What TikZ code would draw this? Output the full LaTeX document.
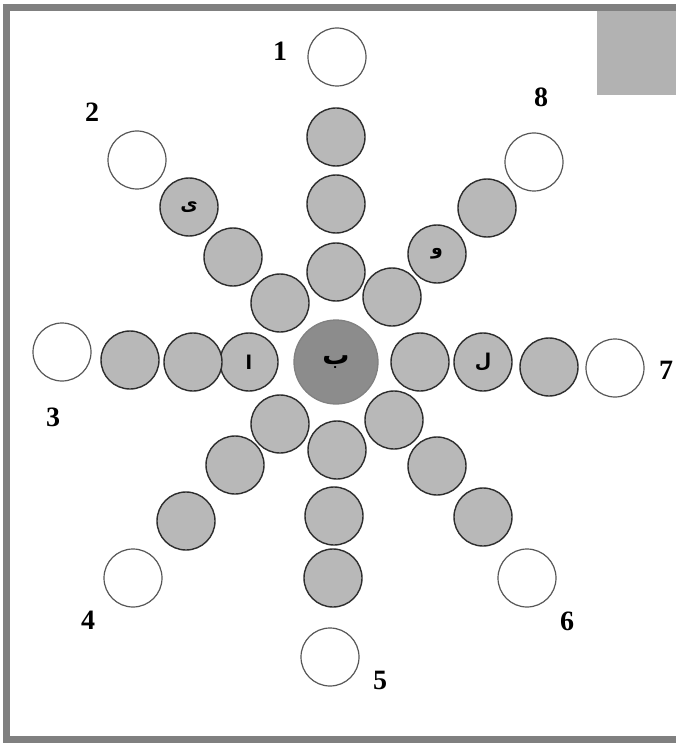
\documentclass[tikz,border=0pt]{standalone}
\usepackage{fontspec}
\setmainfont{Liberation Serif}
\newfontfamily\arabicfont[Script=Arabic]{DejaVu Sans}
\TeXXeTstate=1
\usetikzlibrary{positioning}
\definecolor{FrameGray}{RGB}{128,128,128}
\definecolor{BeadGray}{RGB}{184,184,184}
\definecolor{HubGray}{RGB}{140,140,140}
\definecolor{BeadLine}{RGB}{45,45,45}

\begin{document}
\begin{tikzpicture}[x=1pt,y=-1pt,
    bead/.style={circle, draw=BeadLine, fill=BeadGray, line width=1.4pt,
                 minimum size=58pt, inner sep=0pt,
                 font=\arabicfont\fontsize{19}{19}\selectfont\bfseries},
    tip/.style={circle, draw=BeadLine!80, fill=white, line width=1.2pt,
                minimum size=58pt, inner sep=0pt},
    hub/.style={circle, draw=BeadLine!60, fill=HubGray, line width=1.3pt,
                minimum size=84pt, inner sep=0pt,
                font=\arabicfont\fontsize{27}{27}\selectfont\bfseries},
    num/.style={font=\fontsize{28}{28}\selectfont\bfseries, inner sep=0pt}
  ]
    \useasboundingbox (0,0) rectangle (676,743);
    % frame and corner box
    \fill[BeadGray!97!black] (597,10) rectangle (676,95);
    \draw[FrameGray, line width=7pt] (676,7.5) -- (6.5,7.5) -- (6.5,739.5) -- (676,739.5);

    \node[hub] (hub) at (336,362) {\beginR ب\endR};

    % arm 1 (up)
    \node[bead] (u1) at (336,272) {};
    \node[bead] (u2) at (336,204) {};
    \node[bead] (u3) at (336,137) {};
    \node[tip] (u4) at (337,57) {};
    % arm 5 (down)
    \node[bead] (d1) at (337,450) {};
    \node[bead] (d2) at (334,516) {};
    \node[bead] (d3) at (333,578) {};
    \node[tip] (d4) at (330,657) {};
    % arm 3 (left)
    \node[bead] (l1) at (249,362) {\beginR ا\endR};
    \node[bead] (l2) at (193,362) {};
    \node[bead] (l3) at (130,360) {};
    \node[tip] (l4) at (62,352) {};
    % arm 7 (right)
    \node[bead] (r1) at (420,362) {};
    \node[bead] (r2) at (483,362) {\beginR ل\endR};
    \node[bead] (r3) at (549,367) {};
    \node[tip] (r4) at (615,368) {};
    % arm 2 (upper left)
    \node[bead] (ul1) at (280,303) {};
    \node[bead] (ul2) at (233,257) {};
    \node[bead] (ul3) at (189,207) {\beginR ی\endR};
    \node[tip] (ul4) at (137,160) {};
    % arm 8 (upper right)
    \node[bead] (ur1) at (392,297) {};
    \node[bead] (ur2) at (437,254) {\beginR و\endR};
    \node[bead] (ur3) at (487,208) {};
    \node[tip] (ur4) at (534,162) {};
    % arm 4 (lower left)
    \node[bead] (dl1) at (280,424) {};
    \node[bead] (dl2) at (235,465) {};
    \node[bead] (dl3) at (186,521) {};
    \node[tip] (dl4) at (133,578) {};
    % arm 6 (lower right)
    \node[bead] (dr1) at (394,420) {};
    \node[bead] (dr2) at (437,466) {};
    \node[bead] (dr3) at (483,517) {};
    \node[tip] (dr4) at (527,578) {};

    % arm numbers
    \node[num] (n1) at (280,51) {1};
    \node[num] (n2) at (92,112) {2};
    \node[num] (n3) at (53,417) {3};
    \node[num] (n4) at (88,620) {4};
    \node[num] (n5) at (380,680) {5};
    \node[num] (n6) at (567,621) {6};
    \node[num] (n7) at (666,370) {7};
    \node[num] (n8) at (541,97) {8};
  \end{tikzpicture}
\end{document}
